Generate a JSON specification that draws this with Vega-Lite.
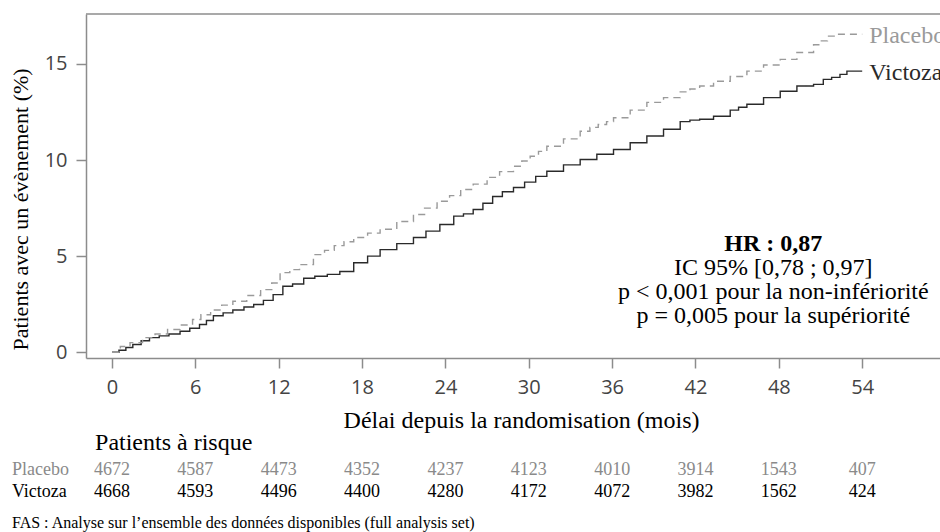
{
  "$schema": "https://vega.github.io/schema/vega-lite/v6.json",
  "autosize": {"type": "none"},
  "padding": {"left": 86, "top": 14, "right": 0, "bottom": 174},
  "width": 854,
  "height": 344,
  "background": "white",
  "config": {
    "view": {"stroke": null},
    "axis": {"grid": false}
  },
  "datasets": {
    "curves": [
      {"group":"Victoza","t":0,"pct":0},{"group":"Victoza","t":0.5,"pct":0.1},{"group":"Victoza","t":1.0,"pct":0.25},{"group":"Victoza","t":1.5,"pct":0.4},{"group":"Victoza","t":2.1,"pct":0.6},{"group":"Victoza","t":2.7,"pct":0.76},{"group":"Victoza","t":3.4,"pct":0.85},{"group":"Victoza","t":4.1,"pct":0.95},{"group":"Victoza","t":4.9,"pct":1.09},{"group":"Victoza","t":5.6,"pct":1.25},{"group":"Victoza","t":6.3,"pct":1.44},{"group":"Victoza","t":6.8,"pct":1.65},{"group":"Victoza","t":7.3,"pct":1.9},{"group":"Victoza","t":8.0,"pct":2.05},{"group":"Victoza","t":8.7,"pct":2.2},{"group":"Victoza","t":9.5,"pct":2.35},{"group":"Victoza","t":10.2,"pct":2.48},{"group":"Victoza","t":10.9,"pct":2.7},{"group":"Victoza","t":11.6,"pct":3.0},{"group":"Victoza","t":12.3,"pct":3.43},{"group":"Victoza","t":13.0,"pct":3.55},{"group":"Victoza","t":13.8,"pct":3.85},{"group":"Victoza","t":14.6,"pct":3.95},{"group":"Victoza","t":15.5,"pct":4.05},{"group":"Victoza","t":16.4,"pct":4.2},{"group":"Victoza","t":17.4,"pct":4.66},{"group":"Victoza","t":18.4,"pct":5.0},{"group":"Victoza","t":19.3,"pct":5.34},{"group":"Victoza","t":20.5,"pct":5.65},{"group":"Victoza","t":21.7,"pct":5.97},{"group":"Victoza","t":22.6,"pct":6.3},{"group":"Victoza","t":23.6,"pct":6.65},{"group":"Victoza","t":24.6,"pct":7.08},{"group":"Victoza","t":25.3,"pct":7.2},{"group":"Victoza","t":26.0,"pct":7.43},{"group":"Victoza","t":26.7,"pct":7.75},{"group":"Victoza","t":27.4,"pct":8.1},{"group":"Victoza","t":28.1,"pct":8.35},{"group":"Victoza","t":28.9,"pct":8.57},{"group":"Victoza","t":29.7,"pct":8.85},{"group":"Victoza","t":30.5,"pct":9.15},{"group":"Victoza","t":31.3,"pct":9.42},{"group":"Victoza","t":32.5,"pct":9.75},{"group":"Victoza","t":33.7,"pct":10.03},{"group":"Victoza","t":34.9,"pct":10.3},{"group":"Victoza","t":36.1,"pct":10.55},{"group":"Victoza","t":37.3,"pct":10.9},{"group":"Victoza","t":38.5,"pct":11.25},{"group":"Victoza","t":39.7,"pct":11.6},{"group":"Victoza","t":40.9,"pct":12.0},{"group":"Victoza","t":41.6,"pct":12.08},{"group":"Victoza","t":42.3,"pct":12.12},{"group":"Victoza","t":43.3,"pct":12.28},{"group":"Victoza","t":44.5,"pct":12.6},{"group":"Victoza","t":45.1,"pct":12.75},{"group":"Victoza","t":45.7,"pct":12.9},{"group":"Victoza","t":46.9,"pct":13.25},{"group":"Victoza","t":48.1,"pct":13.58},{"group":"Victoza","t":49.3,"pct":13.85},{"group":"Victoza","t":50.5,"pct":13.94},{"group":"Victoza","t":51.2,"pct":14.2},{"group":"Victoza","t":51.8,"pct":14.3},{"group":"Victoza","t":52.4,"pct":14.46},{"group":"Victoza","t":52.9,"pct":14.63},{"group":"Victoza","t":54,"pct":14.63},
      {"group":"Placebo","t":0,"pct":0},{"group":"Placebo","t":0.6,"pct":0.3},{"group":"Placebo","t":1.3,"pct":0.5},{"group":"Placebo","t":2.2,"pct":0.76},{"group":"Placebo","t":3.1,"pct":0.95},{"group":"Placebo","t":4.0,"pct":1.18},{"group":"Placebo","t":4.9,"pct":1.42},{"group":"Placebo","t":5.8,"pct":1.7},{"group":"Placebo","t":6.4,"pct":1.95},{"group":"Placebo","t":7.1,"pct":2.2},{"group":"Placebo","t":7.9,"pct":2.45},{"group":"Placebo","t":8.7,"pct":2.65},{"group":"Placebo","t":9.7,"pct":2.95},{"group":"Placebo","t":10.7,"pct":3.26},{"group":"Placebo","t":11.5,"pct":3.6},{"group":"Placebo","t":12.1,"pct":4.14},{"group":"Placebo","t":12.8,"pct":4.3},{"group":"Placebo","t":13.5,"pct":4.56},{"group":"Placebo","t":14.5,"pct":5.08},{"group":"Placebo","t":15.3,"pct":5.3},{"group":"Placebo","t":16.0,"pct":5.55},{"group":"Placebo","t":16.7,"pct":5.75},{"group":"Placebo","t":17.4,"pct":5.97},{"group":"Placebo","t":18.4,"pct":6.2},{"group":"Placebo","t":19.3,"pct":6.4},{"group":"Placebo","t":20.5,"pct":6.8},{"group":"Placebo","t":21.7,"pct":7.17},{"group":"Placebo","t":22.5,"pct":7.5},{"group":"Placebo","t":23.4,"pct":7.86},{"group":"Placebo","t":24.3,"pct":8.15},{"group":"Placebo","t":25.1,"pct":8.47},{"group":"Placebo","t":26.0,"pct":8.75},{"group":"Placebo","t":27.0,"pct":9.1},{"group":"Placebo","t":27.9,"pct":9.4},{"group":"Placebo","t":28.9,"pct":9.68},{"group":"Placebo","t":29.5,"pct":9.95},{"group":"Placebo","t":30.1,"pct":10.2},{"group":"Placebo","t":30.7,"pct":10.45},{"group":"Placebo","t":31.3,"pct":10.72},{"group":"Placebo","t":32.5,"pct":11.1},{"group":"Placebo","t":33.7,"pct":11.5},{"group":"Placebo","t":34.4,"pct":11.7},{"group":"Placebo","t":35.0,"pct":11.85},{"group":"Placebo","t":35.6,"pct":12.0},{"group":"Placebo","t":36.1,"pct":12.2},{"group":"Placebo","t":37.3,"pct":12.6},{"group":"Placebo","t":38.5,"pct":13.0},{"group":"Placebo","t":39.7,"pct":13.25},{"group":"Placebo","t":40.9,"pct":13.55},{"group":"Placebo","t":41.6,"pct":13.7},{"group":"Placebo","t":42.3,"pct":13.85},{"group":"Placebo","t":43.3,"pct":14.1},{"group":"Placebo","t":44.5,"pct":14.35},{"group":"Placebo","t":45.7,"pct":14.63},{"group":"Placebo","t":46.9,"pct":14.95},{"group":"Placebo","t":48.1,"pct":15.24},{"group":"Placebo","t":49.3,"pct":15.6},{"group":"Placebo","t":50.5,"pct":16.0},{"group":"Placebo","t":51.0,"pct":16.2},{"group":"Placebo","t":51.5,"pct":16.45},{"group":"Placebo","t":52.2,"pct":16.55},{"group":"Placebo","t":54,"pct":16.55}
    ],
    "risk": [
      {"group":"Placebo","t":0,"n":4672},{"group":"Placebo","t":6,"n":4587},{"group":"Placebo","t":12,"n":4473},{"group":"Placebo","t":18,"n":4352},{"group":"Placebo","t":24,"n":4237},{"group":"Placebo","t":30,"n":4123},{"group":"Placebo","t":36,"n":4010},{"group":"Placebo","t":42,"n":3914},{"group":"Placebo","t":48,"n":1543},{"group":"Placebo","t":54,"n":407},
      {"group":"Victoza","t":0,"n":4668},{"group":"Victoza","t":6,"n":4593},{"group":"Victoza","t":12,"n":4496},{"group":"Victoza","t":18,"n":4400},{"group":"Victoza","t":24,"n":4280},{"group":"Victoza","t":30,"n":4172},{"group":"Victoza","t":36,"n":4072},{"group":"Victoza","t":42,"n":3982},{"group":"Victoza","t":48,"n":1562},{"group":"Victoza","t":54,"n":424}
    ]
  },
  "layer": [
    {
      "data": {"values": [{}]},
      "mark": {"type": "rule", "color": "#8c8c8c", "strokeWidth": 1.5},
      "encoding": {"y": {"datum": 17.6, "type": "quantitative"}}
    },
    {
      "data": {"name": "curves"},
      "mark": {"type": "line", "interpolate": "step-after", "strokeWidth": 1.4},
      "encoding": {
        "x": {
          "field": "t", "type": "quantitative",
          "scale": {"domain": [-1.87, 59.6], "nice": false, "zero": false},
          "axis": {
            "values": [0,6,12,18,24,30,36,42,48,54],
            "title": "Délai depuis la randomisation (mois)",
            "titleFont": "Liberation Serif, Times New Roman, serif", "titleFontSize": 24, "titleFontWeight": "normal", "titleColor": "#000",
            "titleX": 435, "titleY": 62, "titleBaseline": "middle",
            "labelFont": "Open Sans", "labelFontSize": 20, "labelColor": "#444", "labelPadding": 9,
            "domainColor": "#8c8c8c", "domainWidth": 1.5,
            "tickColor": "#8c8c8c", "tickWidth": 1.5, "tickSize": 10
          }
        },
        "y": {
          "field": "pct", "type": "quantitative",
          "scale": {"domain": [-0.3, 17.6], "nice": false, "zero": false},
          "axis": {
            "values": [0,5,10,15],
            "title": "Patients avec un évènement (%)",
            "titleFont": "Liberation Serif, Times New Roman, serif", "titleFontSize": 22, "titleFontWeight": "normal", "titleColor": "#000",
            "titleX": -66, "titleY": 195, "titleBaseline": "middle", "titleAngle": -90, "titleAlign": "center",
            "labelFont": "Open Sans", "labelFontSize": 20, "labelColor": "#444", "labelPadding": 9,
            "domainColor": "#8c8c8c", "domainWidth": 1.5,
            "tickColor": "#8c8c8c", "tickWidth": 1.5, "tickSize": 10
          }
        },
        "color": {"field": "group", "type": "nominal", "scale": {"domain": ["Placebo","Victoza"], "range": ["#9a9a9a","#2a2a2a"]}, "legend": null},
        "strokeDash": {"field": "group", "type": "nominal", "scale": {"domain": ["Placebo","Victoza"], "range": [[7,5],[1,0]]}, "legend": null}
      }
    },
    {
      "data": {"name": "curves"},
      "transform": [{"filter": "datum.t == 54"}],
      "mark": {"type": "text", "align": "left", "baseline": "middle", "dx": 7, "dy": 2, "font": "Liberation Serif, Times New Roman, serif", "fontSize": 24},
      "encoding": {
        "x": {"field": "t", "type": "quantitative"},
        "y": {"field": "pct", "type": "quantitative"},
        "text": {"field": "group"},
        "color": {"field": "group", "type": "nominal", "scale": {"domain": ["Placebo","Victoza"], "range": ["#8a8a8a","#000000"]}, "legend": null}
      }
    },
    {
      "data": {"values": [{}]},
      "mark": {"type": "text", "align": "center", "baseline": "middle", "font": "Liberation Serif, Times New Roman, serif", "fontSize": 24, "fontWeight": "bold", "color": "#000", "text": "HR : 0,87"},
      "encoding": {"x": {"datum": 47.6, "type": "quantitative"}, "y": {"datum": 5.65, "type": "quantitative"}}
    },
    {
      "data": {"values": [{}]},
      "mark": {"type": "text", "align": "center", "baseline": "middle", "font": "Liberation Serif, Times New Roman, serif", "fontSize": 24, "color": "#000", "lineHeight": 24,
               "text": ["IC 95% [0,78 ; 0,97]", "p < 0,001 pour la non-infériorité", "p = 0,005 pour la supériorité"]},
      "encoding": {"x": {"datum": 47.6, "type": "quantitative"}, "y": {"datum": 4.4, "type": "quantitative"}}
    },
    {
      "data": {"values": [{}]},
      "mark": {"type": "text", "align": "left", "baseline": "middle", "font": "Liberation Serif, Times New Roman, serif", "fontSize": 24, "color": "#000", "text": "Patients à risque"},
      "encoding": {"x": {"datum": -1.22, "type": "quantitative"}, "y": {"datum": -4.7, "type": "quantitative"}}
    },
    {
      "data": {"values": [{}]},
      "mark": {"type": "text", "align": "left", "baseline": "middle", "font": "Liberation Serif, Times New Roman, serif", "fontSize": 18, "color": "#8a8a8a", "text": "Placebo"},
      "encoding": {"x": {"datum": -7.2, "type": "quantitative"}, "y": {"datum": -6.11, "type": "quantitative"}}
    },
    {
      "data": {"values": [{}]},
      "mark": {"type": "text", "align": "left", "baseline": "middle", "font": "Liberation Serif, Times New Roman, serif", "fontSize": 18, "color": "#000", "text": "Victoza"},
      "encoding": {"x": {"datum": -7.2, "type": "quantitative"}, "y": {"datum": -7.26, "type": "quantitative"}}
    },
    {
      "data": {"name": "risk"},
      "transform": [{"filter": "datum.group == 'Placebo'"}],
      "mark": {"type": "text", "align": "center", "baseline": "middle", "font": "Liberation Serif, Times New Roman, serif", "fontSize": 18, "color": "#8a8a8a"},
      "encoding": {"x": {"field": "t", "type": "quantitative"}, "y": {"datum": -6.11, "type": "quantitative"}, "text": {"field": "n", "type": "quantitative", "format": "d"}}
    },
    {
      "data": {"name": "risk"},
      "transform": [{"filter": "datum.group == 'Victoza'"}],
      "mark": {"type": "text", "align": "center", "baseline": "middle", "font": "Liberation Serif, Times New Roman, serif", "fontSize": 18, "color": "#000"},
      "encoding": {"x": {"field": "t", "type": "quantitative"}, "y": {"datum": -7.26, "type": "quantitative"}, "text": {"field": "n", "type": "quantitative", "format": "d"}}
    },
    {
      "data": {"values": [{}]},
      "mark": {"type": "text", "align": "left", "baseline": "middle", "font": "Liberation Serif, Times New Roman, serif", "fontSize": 16, "color": "#000", "text": "FAS : Analyse sur l’ensemble des données disponibles (full analysis set)"},
      "encoding": {"x": {"datum": -7.2, "type": "quantitative"}, "y": {"datum": -8.88, "type": "quantitative"}}
    }
  ]
}
